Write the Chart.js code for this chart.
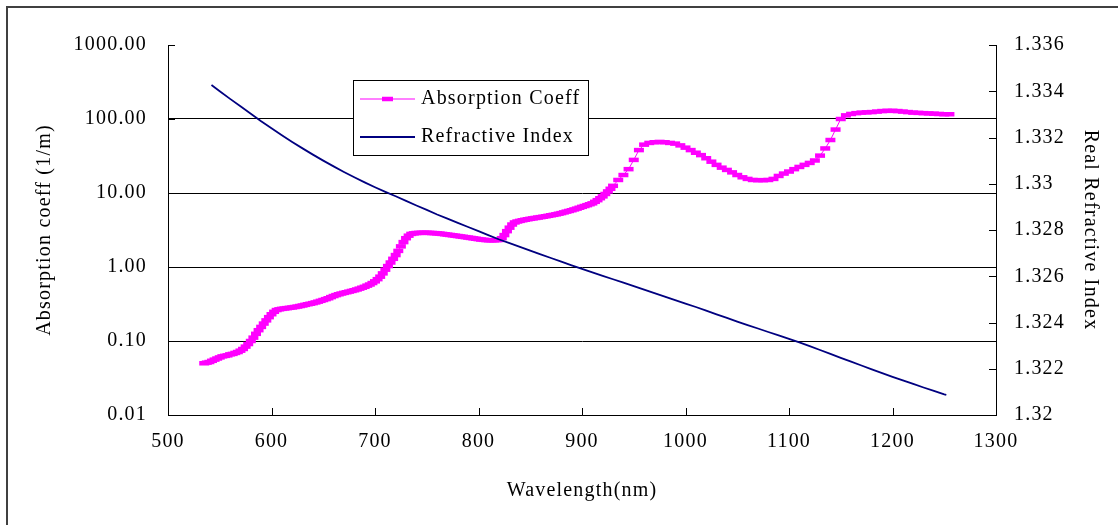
<!DOCTYPE html>
<html>
<head>
<meta charset="utf-8">
<script src="https://cdn.jsdelivr.net/npm/chart.js@4.4.1/dist/chart.umd.min.js"></script>
<style>
  html, body { margin: 0; padding: 0; background: #fff; overflow: hidden; }
  #frame { position: absolute; left: 6px; top: 6px; width: 1300px; height: 700px; border: 2px solid #404040; }
  #wrap { position: absolute; left: 0; top: 0; width: 1118px; height: 525px; }
</style>
</head>
<body>
<div id="frame"></div>
<div id="wrap"><canvas id="waterChart" width="1118" height="525"></canvas></div>
<script>

// ---------------- DATA ----------------

// absorption: 2.5 nm steps up to 930 nm, 5 nm steps after
const absWavelength = [
    535, 537.5, 540, 542.5, 545, 547.5, 550, 552.5, 555, 557.5,
    560, 562.5, 565, 567.5, 570, 572.5, 575, 577.5, 580, 582.5,
    585, 587.5, 590, 592.5, 595, 597.5, 600, 602.5, 605, 607.5,
    610, 612.5, 615, 617.5, 620, 622.5, 625, 627.5, 630, 632.5,
    635, 637.5, 640, 642.5, 645, 647.5, 650, 652.5, 655, 657.5,
    660, 662.5, 665, 667.5, 670, 672.5, 675, 677.5, 680, 682.5,
    685, 687.5, 690, 692.5, 695, 697.5, 700, 702.5, 705, 707.5,
    710, 712.5, 715, 717.5, 720, 722.5, 725, 727.5, 730, 732.5,
    735, 737.5, 740, 742.5, 745, 747.5, 750, 752.5, 755, 757.5,
    760, 762.5, 765, 767.5, 770, 772.5, 775, 777.5, 780, 782.5,
    785, 787.5, 790, 792.5, 795, 797.5, 800, 802.5, 805, 807.5,
    810, 812.5, 815, 817.5, 820, 822.5, 825, 827.5, 830, 832.5,
    835, 837.5, 840, 842.5, 845, 847.5, 850, 852.5, 855, 857.5,
    860, 862.5, 865, 867.5, 870, 872.5, 875, 877.5, 880, 882.5,
    885, 887.5, 890, 892.5, 895, 897.5, 900, 902.5, 905, 907.5,
    910, 912.5, 915, 917.5, 920, 922.5, 925, 927.5, 930,
    935, 940, 945, 950, 955, 960, 965, 970, 975, 980,
    985, 990, 995, 1000, 1005, 1010, 1015, 1020, 1025, 1030,
    1035, 1040, 1045, 1050, 1055, 1060, 1065, 1070, 1075, 1080,
    1085, 1090, 1095, 1100, 1105, 1110, 1115, 1120, 1125, 1130,
    1135, 1140, 1145, 1150, 1155, 1160, 1165, 1170, 1175, 1180,
    1185, 1190, 1195, 1200, 1205, 1210, 1215, 1220, 1225, 1230,
    1235, 1240, 1245, 1250, 1255
];

const absCoeff = [
    0.050, 0.051, 0.052, 0.054, 0.056, 0.058, 0.060, 0.062, 0.063, 0.064,
    0.066, 0.067, 0.069, 0.071, 0.074, 0.078, 0.084, 0.091, 0.100, 0.111,
    0.125, 0.140, 0.155, 0.172, 0.190, 0.210, 0.230, 0.248, 0.262, 0.268,
    0.272, 0.275, 0.278, 0.281, 0.284, 0.288, 0.292, 0.297, 0.302, 0.308,
    0.314, 0.319, 0.325, 0.332, 0.340, 0.349, 0.358, 0.368, 0.378, 0.392,
    0.405, 0.417, 0.428, 0.438, 0.447, 0.456, 0.465, 0.475, 0.485, 0.497,
    0.510, 0.525, 0.540, 0.560, 0.580, 0.607, 0.640, 0.685, 0.740, 0.820,
    0.920, 1.03, 1.15, 1.29, 1.45, 1.65, 1.90, 2.17, 2.45, 2.65,
    2.80, 2.85, 2.88, 2.89, 2.90, 2.90, 2.90, 2.89, 2.88, 2.87,
    2.85, 2.83, 2.80, 2.77, 2.74, 2.71, 2.68, 2.65, 2.62, 2.59,
    2.56, 2.53, 2.50, 2.47, 2.44, 2.41, 2.38, 2.35, 2.33, 2.31,
    2.30, 2.30, 2.30, 2.31, 2.32, 2.45, 2.70, 3.05, 3.40, 3.75,
    4.00, 4.12, 4.20, 4.28, 4.35, 4.42, 4.48, 4.54, 4.60, 4.66,
    4.72, 4.78, 4.85, 4.92, 5.00, 5.07, 5.15, 5.25, 5.35, 5.47,
    5.60, 5.72, 5.85, 6.00, 6.15, 6.32, 6.50, 6.67, 6.85, 7.05,
    7.25, 7.60, 8.00, 8.50, 9.00, 9.70, 10.5, 11.4, 12.5,
    15.0, 17.5, 21.0, 28.0, 38.0, 45.0, 47.5, 48.5, 49.0, 48.5,
    47.5, 46.5, 44.0, 41.0, 38.0, 35.0, 32.5, 29.5, 26.5, 24.0,
    22.0, 20.5, 19.0, 17.5, 16.3, 15.5, 15.0, 14.9, 14.9, 15.0,
    15.5, 17.0, 18.3, 19.5, 21.0, 22.5, 24.0, 25.5, 27.5, 32.0,
    40.0, 52.0, 72.0, 100, 112, 117, 120, 122, 123, 124,
    126, 128, 129, 129, 128, 126, 124, 122, 121, 120,
    119, 118, 117, 116, 116
];

const riWavelength = [
    542, 550, 560, 570, 580, 590, 600, 610, 620, 630,
    640, 650, 660, 670, 680, 690, 700, 710, 720, 730,
    740, 750, 760, 770, 780, 790, 800, 810, 820, 830,
    840, 850, 860, 870, 880, 890, 900, 910, 920, 930,
    940, 950, 960, 970, 980, 990, 1000, 1010, 1020, 1030,
    1040, 1050, 1060, 1070, 1080, 1090, 1100, 1110, 1120, 1130,
    1140, 1150, 1160, 1170, 1180, 1190, 1200, 1210, 1220, 1230,
    1240, 1250, 1252
];

const refractiveIndex = [
    1.33427, 1.33400, 1.33367, 1.33335, 1.33303, 1.33270, 1.33240, 1.33210, 1.33181, 1.33153,
    1.33126, 1.33100, 1.33075, 1.33051, 1.33028, 1.33006, 1.32985, 1.32965, 1.32946, 1.32926,
    1.32906, 1.32887, 1.32867, 1.32849, 1.32831, 1.32813, 1.32795, 1.32777, 1.32759, 1.32743,
    1.32727, 1.32711, 1.32695, 1.32679, 1.32663, 1.32647, 1.32632, 1.32617, 1.32602, 1.32587,
    1.32572, 1.32557, 1.32542, 1.32527, 1.32512, 1.32497, 1.32482, 1.32467, 1.32451, 1.32435,
    1.32420, 1.32404, 1.32389, 1.32374, 1.32359, 1.32344, 1.32329, 1.32314, 1.32298, 1.32281,
    1.32264, 1.32247, 1.32231, 1.32214, 1.32197, 1.32181, 1.32165, 1.32150, 1.32135, 1.32119,
    1.32104, 1.32089, 1.32087
];

const xTicks = [500, 600, 700, 800, 900, 1000, 1100, 1200, 1300];
const absTicks = [0.01, 0.1, 1, 10, 100, 1000];
const riTicks = [1.32, 1.322, 1.324, 1.326, 1.328, 1.33, 1.332, 1.334, 1.336];

const seriesLabels = ["Absorption Coeff", "Refractive Index"];


// ---------------- PLUGINS ----------------

const SPACING = "1.2px";

const textSpacing = {
    id: "textSpacing",
    beforeLayout(chart) { chart.ctx.letterSpacing = SPACING; },
    beforeDraw(chart) { chart.ctx.letterSpacing = SPACING; }
};

// Excel style tick marks pointing into the plot
const innerTicks = {
    id: "innerTicks",
    beforeDatasetsDraw(chart) {
        const { ctx, chartArea: a, scales } = chart;
        ctx.save();
        ctx.strokeStyle = "#000";
        ctx.lineWidth = 1;
        ctx.beginPath();
        scales.x.ticks.forEach(t => {
            const px = Math.round(scales.x.getPixelForValue(t.value)) + 0.5;
            ctx.moveTo(px, a.bottom);
            ctx.lineTo(px, a.bottom - 7);
        });
        scales.y.ticks.forEach(t => {
            const py = Math.round(scales.y.getPixelForValue(t.value)) + 0.5;
            ctx.moveTo(a.left, py);
            ctx.lineTo(a.left + 7, py);
        });
        scales.y1.ticks.forEach(t => {
            const py = Math.round(scales.y1.getPixelForValue(t.value)) + 0.5;
            ctx.moveTo(a.right, py);
            ctx.lineTo(a.right - 7, py);
        });
        ctx.stroke();
        ctx.restore();
    }
};

// boxed legend inside the plot
const boxLegend = {
    id: "boxLegend",
    afterDraw(chart) {
        const ctx = chart.ctx;
        const box = { x: 353.5, y: 80.5, w: 235, h: 75 };
        ctx.save();
        ctx.fillStyle = "#fff";
        ctx.strokeStyle = "#000";
        ctx.lineWidth = 1;
        ctx.fillRect(box.x, box.y, box.w, box.h);
        ctx.strokeRect(box.x, box.y, box.w, box.h);

        chart.data.datasets.forEach((ds, i) => {
            const y = i === 0 ? 99 : 137;
            ctx.strokeStyle = ds.borderColor;
            ctx.lineWidth = i === 0 ? 1.2 : 1.8;
            ctx.beginPath();
            ctx.moveTo(360, y);
            ctx.lineTo(415, y);
            ctx.stroke();
            if (i === 0) {
                ctx.lineWidth = 4.5;
                ctx.beginPath();
                ctx.moveTo(382, y);
                ctx.lineTo(393, y);
                ctx.stroke();
            }
            ctx.fillStyle = "#000";
            ctx.font = "20px 'Liberation Serif'";
            ctx.letterSpacing = SPACING;
            ctx.textBaseline = "middle";
            ctx.textAlign = "left";
            ctx.fillText(ds.label, 421, y);
        });
        ctx.restore();
    }
};


// ---------------- CHART ----------------

const serif = { family: "'Liberation Serif', 'Times New Roman', serif", size: 20 };

new Chart(document.getElementById("waterChart"), {

    type: "line",

    data: {
        datasets: [{
            label: seriesLabels[0],
            data: absWavelength.map((w, i) => ({ x: w, y: absCoeff[i] })),
            yAxisID: "y",
            borderColor: "#FF00FF",
            backgroundColor: "#FF00FF",
            borderWidth: 1,
            pointStyle: "line",
            pointRadius: 5,
            pointBorderWidth: 4.5,
            pointBorderColor: "#FF00FF",
            tension: 0,
            order: 2
        }, {
            label: seriesLabels[1],
            data: riWavelength.map((w, i) => ({ x: w, y: refractiveIndex[i] })),
            yAxisID: "y1",
            borderColor: "#000080",
            backgroundColor: "#000080",
            borderWidth: 1.8,
            pointRadius: 0,
            tension: 0,
            order: 1
        }]
    },

    options: {
        responsive: false,
        animation: false,
        layout: { padding: { top: 45, left: 0, right: 0, bottom: 0 } },
        plugins: {
            legend: { display: false },
            tooltip: { enabled: false }
        },
        scales: {
            x: {
                type: "linear",
                min: 500,
                max: 1300,
                afterBuildTicks: s => { s.ticks = xTicks.map(v => ({ value: v })); },
                afterFit: s => { s.height = 110; },
                grid: { display: false, drawTicks: false },
                border: { display: true, color: "#000", width: 1 },
                ticks: {
                    color: "#000",
                    font: serif,
                    padding: 15,
                    maxRotation: 0,
                    callback: v => String(v)
                },
                title: {
                    display: true,
                    text: "Wavelength(nm)",
                    color: "#000",
                    font: serif,
                    padding: { bottom: 22 }
                }
            },
            y: {
                type: "logarithmic",
                position: "left",
                min: 0.01,
                max: 1000,
                afterBuildTicks: s => { s.ticks = absTicks.map(v => ({ value: v })); },
                afterFit: s => { s.width = 168; },
                grid: {
                    drawTicks: false,
                    color: c => (c.tick && c.tick.value === 1000) ? "rgba(0,0,0,0)" : "#000",
                    lineWidth: 1
                },
                border: { display: true, color: "#000", width: 1 },
                ticks: {
                    color: "#000",
                    font: serif,
                    padding: 21,
                    callback: v => Number(v).toFixed(2)
                },
                title: {
                    display: true,
                    text: "Absorption coeff (1/m)",
                    color: "#000",
                    font: serif,
                    padding: { top: 33 }
                }
            },
            y1: {
                type: "linear",
                position: "right",
                min: 1.32,
                max: 1.336,
                afterBuildTicks: s => { s.ticks = riTicks.map(v => ({ value: v })); },
                afterFit: s => { s.width = 122; },
                grid: { display: false, drawTicks: false },
                border: { display: true, color: "#000", width: 1 },
                ticks: {
                    color: "#000",
                    font: serif,
                    padding: 18,
                    callback: v => String(parseFloat(Number(v).toFixed(3)))
                },
                title: {
                    display: true,
                    text: "Real Refractive Index",
                    color: "#000",
                    font: serif,
                    padding: { top: 16 }
                }
            }
        }
    },

    plugins: [textSpacing, innerTicks, boxLegend]
});

</script>
</body>
</html>
